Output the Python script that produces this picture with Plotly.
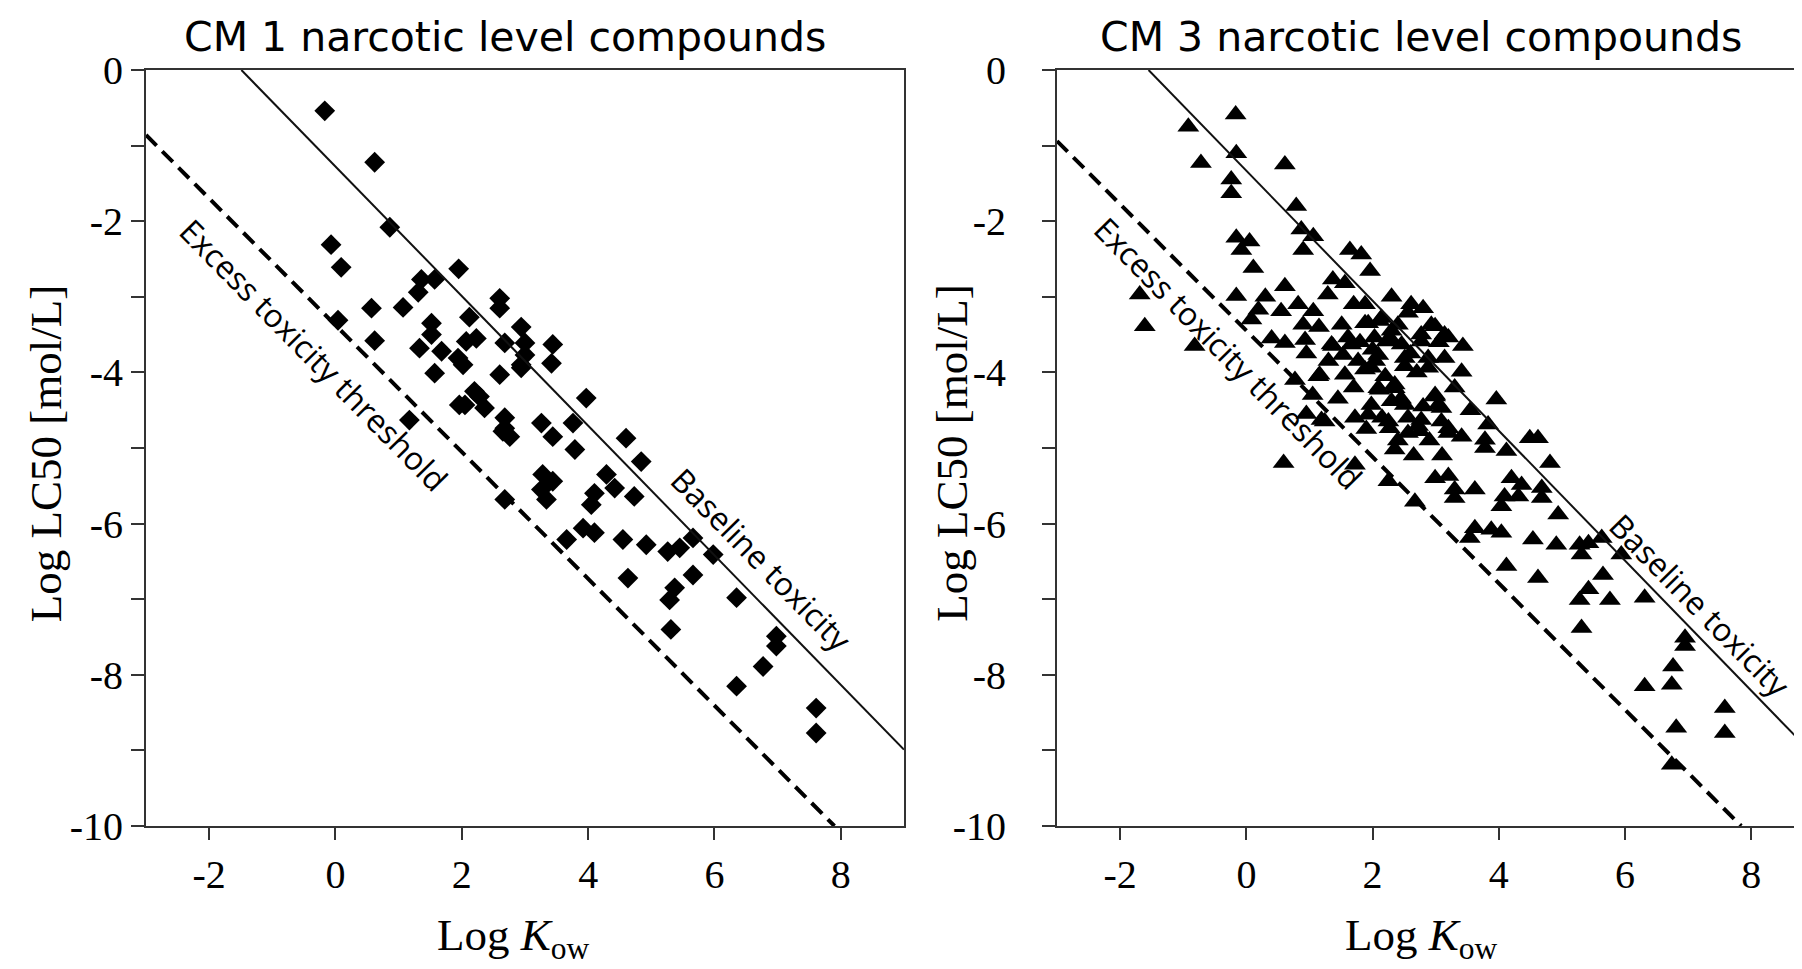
import plotly.graph_objects as go

# CM 1 narcotic level compounds (diamonds)
cm1_logkow = [-0.17, 0.62, 0.86, -0.07, 0.09, 1.95, 1.36, 1.57, 1.31, 2.60, 2.60, 0.57, 1.07, 2.12,
              0.04, 1.52, 2.94, 0.62, 2.23, 2.68, 1.33, 1.68, 1.94, 3.00, 2.02, 1.57, 2.60, 2.94,
              2.28, 2.05, 2.36, 1.17, 2.68, 1.52, 2.07, 3.00, 3.44, 2.94, 3.42, 2.20, 1.96, 3.97,
              2.68, 2.65, 2.76, 3.26, 3.44, 3.76, 3.79, 4.60, 4.84, 3.28, 3.44, 3.26, 3.34, 4.29,
              4.10, 4.42, 4.05, 4.73, 2.68, 3.92, 4.10, 3.66, 4.55, 4.92, 5.26, 5.45, 5.66, 5.98,
              4.63, 5.66, 5.37, 5.29, 6.35, 5.31, 6.98, 6.98, 6.77, 6.35, 7.61, 7.61]
cm1_loglc50 = [-0.54, -1.22, -2.08, -2.31, -2.61, -2.63, -2.77, -2.77, -2.94, -3.02, -3.15, -3.15, -3.14, -3.27,
               -3.31, -3.35, -3.40, -3.58, -3.55, -3.61, -3.68, -3.72, -3.81, -3.77, -3.90, -4.01, -4.03, -3.90,
               -4.32, -4.43, -4.47, -4.63, -4.74, -3.50, -3.59, -3.61, -3.63, -3.94, -3.88, -4.25, -4.43, -4.34,
               -4.60, -4.78, -4.85, -4.67, -4.85, -4.67, -5.02, -4.87, -5.18, -5.35, -5.44, -5.55, -5.68, -5.35,
               -5.60, -5.53, -5.75, -5.64, -5.68, -6.06, -6.12, -6.21, -6.21, -6.28, -6.37, -6.32, -6.19, -6.41,
               -6.72, -6.68, -6.85, -7.01, -6.98, -7.40, -7.49, -7.62, -7.89, -8.15, -8.44, -8.77]

# CM 3 narcotic level compounds (triangles)
cm3_logkow = [-0.17, -0.92, -0.16, -0.72, 0.61, -0.24, -0.24, 0.79, 0.87, 1.06, 0.90, -0.16, 0.05, -0.08,
              0.11, 1.64, 1.82, 1.96, 1.37, 1.56, 1.29, 0.61, -0.16, -1.69, -1.61, -0.82, 0.19, 0.08,
              0.55, 0.82, 1.06, 0.90, 0.61, 0.93, 1.88, 2.61, 1.51, 1.88, 1.35, 1.61, 2.11, 2.40,
              2.93, 3.14, 2.03, 2.30, 2.77, 1.53, 1.77, 2.09, 2.51, 2.88, 1.56, 1.16, 0.77, 1.98,
              2.09, 2.35, 2.30, 2.51, 2.99, 3.09, 1.72, 1.93, 2.25, 2.56, 2.72, 1.19, 3.20,
              1.93, 2.14, 2.56, 2.99, 3.20, 3.43, 1.37, 1.66, 2.22, 2.46, 2.77, 1.14, 1.88, 2.04,
              2.51, 2.88, 3.41, 3.14, 2.11, 2.35, 2.99, 1.98, 3.04, 2.77, 3.09, 2.27, 2.56, 2.75,
              3.20, 3.41, 2.35, 3.83, 3.78, 3.78, 3.96, 4.12, 4.49, 4.62, 4.81, 1.24, 1.72, 2.25,
              2.99, 3.20, 3.30, 3.30, 3.62, 2.67, 4.20, 4.36, 4.09, 4.31, 4.04, 4.68, 4.68, 4.94,
              3.62, 3.54, 3.88, 4.04, 4.54, 4.91, 5.28, 5.42, 5.63, 5.94, 5.31, 4.12, 4.62, 5.65,
              5.42, 5.28, 5.76, 6.31, 5.31, 6.95, 6.95, 6.76, 6.31, 6.74, 7.58, 6.81, 7.58, 6.74,
              0.59, 0.95, 1.80, 2.00, 2.30, 2.60, 2.70, 2.20, 1.70, 1.45, 2.45, 2.80, 2.15, 2.40,
              2.90, 1.90, 3.30, 3.55, 2.65, 3.10, 1.30, 1.15, 0.95, 1.05, 0.40, 0.30, 1.70, 2.30,
              2.80, 3.05]
cm3_loglc50 = [-0.59, -0.75, -1.10, -1.23, -1.25, -1.45, -1.63, -1.80, -2.11, -2.20, -2.38, -2.22, -2.27, -2.38,
               -2.62, -2.38, -2.44, -2.66, -2.77, -2.82, -2.97, -2.86, -2.99, -2.97, -3.39, -3.65, -3.17, -3.30,
               -3.19, -3.10, -3.19, -3.37, -3.61, -3.57, -3.10, -3.10, -3.37, -3.35, -3.63, -3.54, -3.32, -3.37,
               -3.37, -3.50, -3.54, -3.57, -3.50, -3.77, -3.85, -3.77, -3.81, -3.81, -4.03, -4.03, -4.10, -3.94,
               -4.21, -4.16, -4.38, -4.43, -4.30, -4.47, -4.60, -4.56, -4.65, -4.60, -4.71, -4.63, -4.74,
               -3.35, -3.28, -3.21, -3.39, -3.54, -3.65, -3.65, -3.63, -3.59, -3.63, -3.59, -4.05, -3.96, -3.85,
               -3.92, -3.94, -3.99, -3.81, -4.23, -4.21, -4.32, -4.43, -4.43, -4.63, -4.65, -4.74, -4.80, -4.78,
               -4.80, -4.85, -5.02, -4.69, -4.89, -5.00, -4.36, -5.04, -4.87, -4.87, -5.20, -4.65, -5.22, -5.44,
               -5.40, -5.37, -5.55, -5.66, -5.55, -5.71, -5.40, -5.49, -5.64, -5.64, -5.77, -5.53, -5.66, -5.88,
               -6.06, -6.19, -6.08, -6.12, -6.21, -6.28, -6.28, -6.26, -6.19, -6.41, -6.41, -6.56, -6.72, -6.68,
               -6.87, -7.01, -7.01, -6.98, -7.38, -7.51, -7.62, -7.89, -8.15, -8.13, -8.44, -8.70, -8.77, -9.19,
               -5.20, -4.55, -3.60, -3.70, -3.45, -3.75, -4.00, -4.05, -4.20, -4.35, -4.35, -4.45, -4.60, -4.90,
               -4.90, -4.75, -4.20, -4.50, -5.10, -5.10, -3.85, -3.40, -3.75, -4.30, -3.55, -3.00, -3.10, -3.00,
               -3.15, -3.60]

# reference lines (end points)
base1_x = [-1.49, 9.0]
base1_y = [0.0, -8.99]
excess1_x = [-3.0, 7.9]
excess1_y = [-0.86, -10.0]
base3_x = [-1.55, 8.93]
base3_y = [0.0, -9.01]
excess3_x = [-3.0, 7.84]
excess3_y = [-0.94, -10.0]

# tick labels
x_tickvals = [-2, 0, 2, 4, 6, 8]
x_ticktext = ["-2", "0", "2", "4", "6", "8"]
y_tickvals = [0, -2, -4, -6, -8, -10]
y_ticktext = ["0", "-2", "-4", "-6", "-8", "-10"]

titles = ["CM 1 narcotic level compounds", "CM 3 narcotic level compounds"]

fig = go.Figure()

fig.add_trace(go.Scatter(x=cm1_logkow, y=cm1_loglc50, mode="markers", xaxis="x", yaxis="y",
                         marker=dict(symbol="diamond", size=16, color="black")))
fig.add_trace(go.Scatter(x=base1_x, y=base1_y, mode="lines", xaxis="x", yaxis="y",
                         line=dict(color="#111111", width=2)))
fig.add_trace(go.Scatter(x=excess1_x, y=excess1_y, mode="lines", xaxis="x", yaxis="y",
                         line=dict(color="black", width=4, dash="15px,8px")))

fig.add_trace(go.Scatter(x=cm3_logkow, y=cm3_loglc50, mode="markers", xaxis="x2", yaxis="y2",
                         marker=dict(symbol="triangle-up", size=19, color="black")))
fig.add_trace(go.Scatter(x=base3_x, y=base3_y, mode="lines", xaxis="x2", yaxis="y2",
                         line=dict(color="#111111", width=2)))
fig.add_trace(go.Scatter(x=excess3_x, y=excess3_y, mode="lines", xaxis="x2", yaxis="y2",
                         line=dict(color="black", width=4, dash="15px,8px")))

serif = "Times New Roman, Liberation Serif, serif"
tick_font = dict(family=serif, size=40, color="black")
minor_ticks = dict(dtick=1, tick0=0, ticks="outside", ticklen=13, tickcolor="#333333", tickwidth=2)

fig.update_layout(
    template="none",
    width=1802,
    height=969,
    showlegend=False,
    font=tick_font,
    plot_bgcolor="white",
    paper_bgcolor="white",
    margin=dict(l=138, r=0, t=62, b=151),
    xaxis=dict(domain=[0, 0.4555], range=[-3, 9], mirror=True, anchor="y"),
    yaxis=dict(domain=[0, 1], range=[-10, 0], mirror=True, anchor="x", minor=minor_ticks),
    xaxis2=dict(domain=[0.5475, 1.0], range=[-3, 8.93], mirror=True, anchor="y2"),
    yaxis2=dict(domain=[0, 1], range=[-10, 0], mirror=False, anchor="x2", minor=minor_ticks),
)
fig.update_xaxes(tickmode="array", tickvals=x_tickvals, ticktext=x_ticktext, ticklen=12,
                 tickfont=tick_font)
fig.update_yaxes(tickmode="array", tickvals=y_tickvals, ticklen=13, tickfont=tick_font)
fig.update_layout(
    yaxis=dict(ticktext=y_ticktext),
    # right panel labels sit further from their axis
    yaxis2=dict(ticktext=[t + "\u2002\u2009" for t in y_ticktext]),
)
fig.update_xaxes(showline=True, linecolor="#333333", linewidth=2, showgrid=False, zeroline=False,
                 ticks="outside", tickcolor="#333333", tickwidth=2)
fig.update_yaxes(showline=True, linecolor="#333333", linewidth=2, showgrid=False, zeroline=False,
                 ticks="outside", tickcolor="#333333", tickwidth=2)

label_font = dict(family="Open Sans", size=32, color="black")
title_font = dict(family="DejaVu Sans", size=41, color="black")
axis_title_font = dict(family=serif, size=45, color="black")

# panel titles
for xp, t in zip([0.2157, 0.766], titles):
    fig.add_annotation(text=t, xref="paper", yref="paper", x=xp, y=1.043, showarrow=False,
                       font=title_font, xanchor="center", yanchor="middle")

# axis titles
for xp in [0.2209, 0.7665]:
    fig.add_annotation(text="Log <i>K</i><sub>ow</sub>", xref="paper", yref="paper", x=xp, y=-0.148,
                       showarrow=False, font=axis_title_font, xanchor="center", yanchor="middle")
for xp in [-0.0601, 0.4847]:
    fig.add_annotation(text="Log LC50 [mol/L]", xref="paper", yref="paper", x=xp, y=0.493,
                       showarrow=False, font=axis_title_font, textangle=-90,
                       xanchor="center", yanchor="middle")

# line labels
fig.add_annotation(text="Excess toxicity threshold", xref="x", yref="y", x=-0.34, y=-3.76,
                   showarrow=False, font=label_font, textangle=45.5)
fig.add_annotation(text="Baseline toxicity", xref="x", yref="y", x=6.75, y=-6.48,
                   showarrow=False, font=label_font, textangle=45.5)
fig.add_annotation(text="Excess toxicity threshold", xref="x2", yref="y2", x=-0.29, y=-3.74,
                   showarrow=False, font=label_font, textangle=45.5)
fig.add_annotation(text="Baseline toxicity", xref="x2", yref="y2", x=7.2, y=-7.08,
                   showarrow=False, font=label_font, textangle=45.5)

fig.write_html("out.html")
